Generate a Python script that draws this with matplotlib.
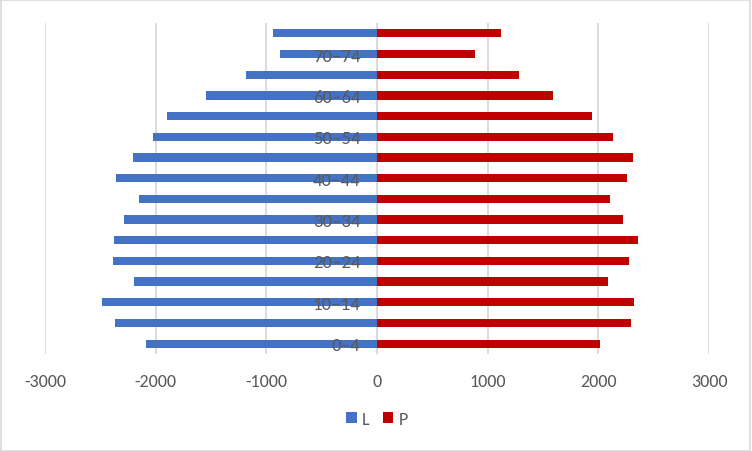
import matplotlib.pyplot as plt
import numpy as np

# grupos de edad (de abajo hacia arriba)
grupos = ["0–4", "5–9", "10–14", "15–19", "20–24", "25–29", "30–34", "35–39",
          "40–44", "45–49", "50–54", "55–59", "60–64", "65–69", "70–74", "75+"]
laki = [2090, 2370, 2485, 2195, 2385, 2375, 2290, 2150,
        2360, 2205, 2025, 1900, 1545, 1185, 880, 940]
perempuan = [2015, 2295, 2325, 2090, 2280, 2360, 2225, 2105,
             2260, 2315, 2135, 1945, 1590, 1285, 885, 1120]
ticks_x = [-3000, -2000, -1000, 0, 1000, 2000, 3000]

azul = "#4472C4"
rojo = "#C00000"
gris = "#595959"

plt.rcParams['font.family'] = ['Carlito', 'Liberation Sans Narrow', 'Asap Condensed', 'DejaVu Sans']

fig = plt.figure(figsize=(7.52, 4.52), dpi=100)
ax = fig.add_axes([45 / 752, 1 - 355 / 452, 664 / 752, 331 / 452])

y = np.arange(len(grupos))
ax.barh(y, [-v for v in laki], height=0.4, color=azul, label="L", zorder=1)
ax.barh(y, perempuan, height=0.4, color=rojo, label="P", zorder=1)

ax.set_xlim(-3000, 3000)
ax.set_ylim(-0.5, len(grupos) - 0.5)
ax.set_xticks(ticks_x)
ax.set_xticklabels([str(t) for t in ticks_x])
ax.grid(axis='x', color="#D9D9D9", linewidth=1.3)
ax.xaxis.set_zorder(0.5)

# etiquetas de categoria junto al eje en 0, una si y otra no
ax.spines['left'].set_position(('data', 0))
ax.set_yticks(y)
ax.set_yticklabels([g if i % 2 == 0 else "" for i, g in enumerate(grupos)])
for lado in ['top', 'right', 'bottom']:
    ax.spines[lado].set_visible(False)
ax.spines['left'].set_color("#D9D9D9")
ax.spines['left'].set_zorder(0.5)
ax.tick_params(axis='y', length=0, pad=12, labelsize=13.5, labelcolor=gris)
ax.tick_params(axis='x', length=0, pad=14, labelsize=13, labelcolor=gris)

fig.legend(loc='center', bbox_to_anchor=(377 / 752, 1 - 420 / 452), ncol=2,
           frameon=False, fontsize=13, labelcolor=gris, handlelength=0.6,
           handleheight=0.6, handletextpad=0.3, columnspacing=0.7)

# borde del grafico
fig.patches.append(plt.Rectangle((0.001, 0.001), 0.997, 0.997, transform=fig.transFigure,
                                 fill=False, edgecolor="#D9D9D9", linewidth=1.2))

fig.savefig("out.png", dpi=100)
